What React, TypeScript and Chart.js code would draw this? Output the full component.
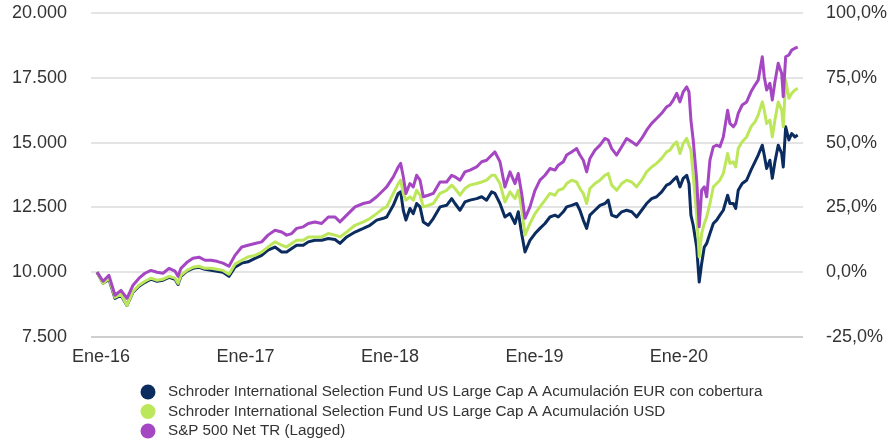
import React, { useEffect, useRef } from 'react';
import { Chart, registerables } from 'chart.js';

Chart.register(...registerables);

// x position of each observation, in months since January 2016
const monthsSinceJan16 = [
  -0.33, 0.17, 0.66, 1.16, 1.66, 2.16, 2.66, 3.16, 3.65, 4.15,
  4.65, 5.15, 5.65, 6.15, 6.4, 6.64, 7.14, 7.64, 8.14, 8.64,
  9.14, 9.63, 10.13, 10.63, 11.13, 11.69, 12.21, 12.79, 13.35, 13.87,
  14.45, 15.01, 15.42, 15.84, 16.25, 16.8, 17.22, 17.77, 18.33, 18.88,
  19.44, 19.85, 20.41, 21.1, 21.79, 22.34, 22.9, 23.45, 23.73, 24.28,
  24.69, 24.89, 25.11, 25.33, 25.66, 25.94, 26.22, 26.5, 26.77, 27.18,
  27.6, 28.16, 28.71, 29.13, 29.4, 29.82, 30.23, 30.65, 31.2, 31.62,
  32.03, 32.45, 32.72, 33.14, 33.55, 33.97, 34.39, 34.66, 34.94, 35.22,
  35.63, 36.05, 36.46, 36.88, 37.29, 37.71, 37.98, 38.4, 38.68, 39.09,
  39.51, 39.78, 40.06, 40.34, 40.61, 41.03, 41.45, 41.86, 42.13, 42.42,
  42.83, 43.25, 43.66, 44.08, 44.49, 44.91, 45.32, 45.74, 46.15, 46.57,
  46.98, 47.26, 47.53, 47.82, 48.09, 48.36, 48.65, 48.84, 49.0, 49.19,
  49.48, 49.69, 49.89, 50.11, 50.31, 50.58, 50.86, 51.14, 51.41, 51.69,
  52.05, 52.24, 52.52, 52.72, 52.93, 53.26, 53.63, 53.99, 54.32, 54.59,
  54.93, 55.09, 55.29, 55.56, 55.76, 55.98, 56.25, 56.54, 56.67, 56.87,
  57.14, 57.37, 57.64, 57.87,
];

const eurHedged = [
  10000, 9570, 9730, 8990, 9110, 8720, 9230, 9460, 9610, 9730,
  9650, 9690, 9800, 9730, 9530, 9840, 10040, 10150, 10190, 10110,
  10070, 10040, 10000, 9840, 10190, 10350, 10400, 10530, 10650, 10850,
  10970, 10780, 10780, 10910, 11040, 11040, 11170, 11230, 11230, 11300,
  11260, 11110, 11360, 11550, 11690, 11810, 12010, 12080, 12130, 12580,
  13040, 13100, 12390, 12010, 12460, 12260, 12650, 12520, 11940, 11810,
  12070, 12520, 12580, 12840, 12650, 12390, 12710, 12780, 12840, 12910,
  12780, 13100, 13040, 12650, 12130, 12260, 11880, 12330, 11490, 10780,
  11230, 11490, 11690, 11880, 12130, 12200, 12130, 12330, 12520, 12580,
  12650, 12390, 12010, 11690, 12200, 12390, 12580, 12650, 12780, 12200,
  12130, 12330, 12390, 12330, 12130, 12390, 12650, 12840, 12910, 13100,
  13360, 13420, 13550, 13680, 13290, 13620, 13740, 13420, 12200, 11810,
  10960, 9620, 10330, 10970, 11110, 11490, 11880, 12010, 12200, 12390,
  12970, 12650, 12650, 12460, 13160, 13420, 13550, 13940, 14260, 14520,
  14900, 14520, 14000, 14320, 13620, 14260, 14900, 14580, 14060, 15610,
  15100, 15350, 15220, 15290,
];

const usd = [
  10000, 9570, 9770, 9030, 9150, 8720, 9260, 9500, 9650, 9770,
  9690, 9730, 9840, 9770, 9570, 9880, 10070, 10190, 10230, 10150,
  10150, 10110, 10070, 9920, 10310, 10460, 10590, 10650, 10780, 10970,
  11170, 11040, 10970, 11110, 11230, 11230, 11360, 11360, 11360, 11490,
  11430, 11360, 11550, 11810, 11940, 12070, 12260, 12460, 12520, 13040,
  13420, 13550, 13040, 12780, 12910, 12780, 13160, 12970, 12520, 12580,
  12650, 13040, 13160, 13360, 13230, 12970, 13230, 13360, 13420, 13480,
  13550, 13740, 13740, 13420, 12710, 13100, 12840, 13160, 12460, 11430,
  11880, 12260, 12520, 12780, 13040, 12970, 13160, 13230, 13420, 13550,
  13480, 13230, 13040, 12650, 13230, 13420, 13550, 13740, 13810, 13360,
  13160, 13420, 13550, 13480, 13290, 13550, 13870, 14060, 14200, 14390,
  14640, 14710, 14900, 15030, 14580, 14970, 15160, 14900, 14710, 13740,
  12200, 10590, 11490, 11880, 12130, 12650, 13290, 13420, 13550, 13810,
  14580, 14200, 14260, 14060, 14770, 15030, 15220, 15610, 15800, 16060,
  16570, 16250, 15740, 15870, 15220, 15870, 16570, 16250, 15610, 17410,
  16710, 16900, 17030, 17090,
];

const sp500 = [
  10000, 9650, 9880, 9110, 9300, 8990, 9500, 9770, 9960, 10070,
  10000, 9960, 10150, 10040, 9840, 10150, 10380, 10540, 10580, 10460,
  10460, 10420, 10350, 10230, 10650, 10970, 11040, 11110, 11170, 11430,
  11620, 11550, 11430, 11490, 11690, 11750, 11880, 11940, 11880, 12130,
  12130, 11940, 12200, 12520, 12650, 12710, 12910, 13160, 13290, 13680,
  14060, 14200, 13680, 13040, 13420, 13290, 13740, 13550, 12910, 12970,
  13040, 13480, 13480, 13740, 13680, 13550, 13870, 13940, 14060, 14260,
  14320, 14520, 14640, 14260, 13290, 13870, 13420, 13810, 13040, 12080,
  12520, 13160, 13550, 13740, 14000, 13940, 14130, 14260, 14520, 14640,
  14770, 14520, 14320, 13870, 14390, 14710, 14900, 15160, 15100, 14770,
  14520, 14840, 15160, 15030, 14900, 15160, 15480, 15740, 15930, 16130,
  16380, 16450, 16640, 16900, 16570, 16960, 17150, 16960, 15870, 15100,
  13550, 11750, 13160, 13290, 12910, 14320, 14840, 14900, 14840, 15220,
  16250, 15740, 15610, 15740, 16130, 16450, 16570, 16960, 17220, 17410,
  18310, 17540, 17030, 17290, 16640, 17350, 18060, 17670, 16770, 18310,
  18380, 18570, 18640, 18680,
];

const seriesNames = [
  'Schroder International Selection Fund US Large Cap A Acumulación EUR con cobertura',
  'Schroder International Selection Fund US Large Cap A Acumulación USD',
  'S&P 500 Net TR (Lagged)',
];
const seriesColors = ['#0b2c5f', '#bde75a', '#a547c2'];

const xTickMonths = [0, 12, 24, 36, 48];
const xTickLabels = ['Ene-16', 'Ene-17', 'Ene-18', 'Ene-19', 'Ene-20'];

const leftMin = 7500;
const leftMax = 20000;
const leftStep = 2500;
const rightMin = -25;
const rightMax = 100;
const rightStep = 25;

const FONT = '"Liberation Sans", Arial, sans-serif';

function formatThousands(v: number): string {
  const s = Math.round(v).toString();
  return s.replace(/\B(?=(\d{3})+(?!\d))/g, '.');
}

const bottomLegend = {
  id: 'bottomLegend',
  afterDraw(chart: any) {
    const ctx = chart.ctx;
    const top = chart.chartArea.bottom + 55;
    ctx.save();
    ctx.font = `15.2px ${FONT}`;
    ctx.textBaseline = 'middle';
    ctx.textAlign = 'left';
    chart.data.datasets.forEach((ds: any, i: number) => {
      const y = top + i * 19.5;
      ctx.fillStyle = ds.borderColor;
      ctx.beginPath();
      ctx.arc(148, y, 7.5, 0, Math.PI * 2);
      ctx.fill();
      ctx.fillStyle = '#333333';
      ctx.fillText(ds.label, 168, y);
    });
    ctx.restore();
  },
};

export default function App() {
  const canvasRef = useRef<HTMLCanvasElement | null>(null);

  useEffect(() => {
    document.body.style.margin = '0';
    const canvas = canvasRef.current;
    if (!canvas) return;
    const series = [eurHedged, usd, sp500];
    const chart = new Chart(canvas, {
      type: 'line',
      data: {
        datasets: series.map((vals, i) => ({
          label: seriesNames[i],
          data: monthsSinceJan16.map((m, j) => ({ x: m, y: vals[j] })),
          borderColor: seriesColors[i],
          backgroundColor: seriesColors[i],
          borderWidth: 3,
          pointRadius: 0,
          tension: 0,
          borderJoinStyle: 'round' as const,
          fill: false,
          order: 2 - i,
          yAxisID: 'y',
        })),
      },
      options: {
        responsive: false,
        animation: false,
        devicePixelRatio: 1,
        layout: { padding: { top: 13, left: 0, right: 0, bottom: 0 } },
        plugins: {
          legend: { display: false },
          tooltip: { enabled: false },
        },
        scales: {
          x: {
            type: 'linear',
            min: -0.83,
            max: 58.31,
            grid: { display: false },
            border: { display: false },
            afterBuildTicks: (scale: any) => {
              scale.ticks = xTickMonths.map((v) => ({ value: v }));
            },
            afterFit: (scale: any) => {
              scale.height = 105;
            },
            ticks: {
              autoSkip: false,
              maxRotation: 0,
              padding: 1,
              color: '#333333',
              font: { family: FONT, size: 18 },
              callback: (v: any) => {
                const idx = xTickMonths.indexOf(Number(v));
                return idx >= 0 ? xTickLabels[idx] : '';
              },
            },
          },
          y: {
            type: 'linear',
            position: 'left',
            min: leftMin,
            max: leftMax,
            grid: {
              color: (c: any) => (c.tick && c.tick.value === leftMin ? '#cfcfcf' : '#e4e4e4'),
              lineWidth: 2,
              drawTicks: true,
              tickLength: 24,
              tickColor: 'rgba(0,0,0,0)',
            },
            border: { display: false },
            afterFit: (scale: any) => {
              scale.width = 91;
            },
            ticks: {
              stepSize: leftStep,
              padding: 0,
              color: '#333333',
              font: { family: FONT, size: 18 },
              callback: (v: any) => formatThousands(Number(v)),
            },
          },
          y1: {
            type: 'linear',
            position: 'right',
            min: rightMin,
            max: rightMax,
            grid: {
              drawOnChartArea: false,
              drawTicks: true,
              tickLength: 23,
              tickColor: 'rgba(0,0,0,0)',
            },
            border: { display: false },
            afterFit: (scale: any) => {
              scale.width = 90;
            },
            ticks: {
              stepSize: rightStep,
              padding: 0,
              color: '#333333',
              font: { family: FONT, size: 18 },
              callback: (v: any) => Number(v).toFixed(1).replace('.', ',') + '%',
            },
          },
        },
      },
      plugins: [bottomLegend],
    } as any);
    return () => chart.destroy();
  }, []);

  return (
    <div style={{ width: 893, height: 442, position: 'relative' }}>
      <canvas ref={canvasRef} width={893} height={442} style={{ display: 'block' }} />
    </div>
  );
}
